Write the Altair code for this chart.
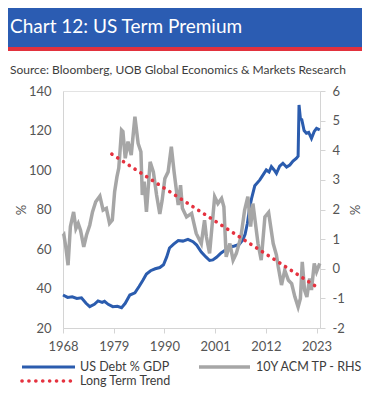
import altair as alt
import pandas as pd

# ---------------- data ----------------
debt_years = [1968.0, 1969.0, 1970.0, 1971.0, 1972.0, 1973.0, 1973.8, 1974.8, 1975.6, 1976.5,
              1977.0, 1977.8, 1978.8, 1979.8, 1980.7, 1981.5, 1982.5, 1983.6, 1984.5, 1985.3,
              1986.1, 1987.0, 1988.0, 1989.0, 1989.8, 1990.5, 1991.1, 1992.0, 1993.0, 1994.0,
              1995.1, 1996.2, 1997.0, 1998.0, 1999.0, 1999.8, 2000.5, 2001.3, 2002.3, 2003.4,
              2004.3, 2005.2, 2006.2, 2007.0, 2007.5, 2008.0, 2008.5, 2008.9, 2009.6, 2010.7,
              2011.4, 2012.1, 2012.7, 2013.2, 2013.8, 2014.3, 2015.0, 2015.7, 2016.5, 2017.2,
              2017.9, 2018.6, 2019.0, 2019.2, 2019.5, 2019.8, 2020.3, 2020.8, 2021.3, 2021.9,
              2022.5, 2023.0, 2023.7]
debt_values = [36.7, 35.5, 35.8, 35.0, 35.3, 32.5, 30.8, 32.0, 33.7, 33.0,
               33.5, 32.0, 30.8, 31.0, 30.3, 32.5, 36.7, 37.8, 41.0, 44.0,
               47.3, 49.0, 50.0, 50.6, 52.0, 56.0, 60.5, 62.5, 64.3, 64.0,
               64.9, 63.7, 62.0, 58.5, 56.0, 54.2, 54.5, 55.8, 58.0, 59.8,
               61.0, 61.5, 62.3, 64.6, 67.5, 73.0, 81.0, 85.5, 92.0, 95.0,
               97.5, 100.0, 99.0, 101.7, 100.0, 98.3, 102.0, 103.4, 101.5, 102.5,
               104.5, 105.9, 107.0, 132.9, 126.0, 125.5, 120.0, 118.6, 119.0, 116.0,
               119.5, 121.1, 120.3]

tp_years = [1968.0, 1968.2, 1968.6, 1969.1, 1969.6, 1970.3, 1970.8, 1971.3, 1971.8, 1972.5,
            1973.1, 1973.8, 1974.4, 1975.1, 1976.0, 1976.7, 1977.4, 1978.1, 1978.7, 1979.2,
            1979.7, 1980.1, 1980.7, 1981.0, 1981.5, 1982.1, 1982.8, 1983.6, 1984.3, 1984.9,
            1985.2, 1985.6, 1986.1, 1986.9, 1987.6, 1988.3, 1989.0, 1989.5, 1990.1, 1990.8,
            1991.5, 1992.1, 1993.0, 1993.5, 1993.9, 1994.8, 1995.9, 1996.9, 1998.0, 1998.7,
            1999.1, 1999.8, 2000.9, 2001.6, 2002.4, 2002.9, 2003.4, 2004.2, 2004.9, 2005.6,
            2006.6, 2007.4, 2008.1, 2008.7, 2009.2, 2010.3, 2011.0, 2011.8, 2012.6, 2013.6,
            2014.3, 2014.7, 2015.4, 2016.1, 2016.9, 2017.6, 2018.3, 2019.0, 2019.5, 2019.9,
            2020.4, 2020.9, 2021.5, 2021.9, 2022.5, 2023.0, 2023.7]
tp_values = [1.10, 1.14, 0.74, 0.12, 1.42, 1.92, 1.36, 1.53, 1.30, 0.74,
             1.14, 1.47, 1.92, 2.26, 2.45, 1.98, 2.04, 1.53, 1.64, 2.60,
             3.10, 3.40, 4.68, 4.63, 3.73, 4.29, 3.84, 5.13, 4.23, 3.95,
             2.49, 2.94, 1.92, 3.61, 3.27, 2.49, 1.85, 2.30, 3.05, 3.27,
             4.12, 3.27, 2.15, 2.82, 2.04, 1.75, 1.87, 1.19, 0.85, 1.64,
             1.08, 0.52, 2.43, 2.20, 2.37, 2.09, 0.40, 0.85, 0.29, 0.52,
             1.08, 1.98, 2.43, 1.42, 2.20, 0.85, 0.29, 1.75, 1.90, 0.85,
             0.46, 0.06, -0.55, -0.05, -0.39, -0.50, -0.95, -1.29, -1.00, 0.23,
             -0.72, -0.95, -0.33, -0.72, 0.18, -0.10, 0.18]

trend_years = [1978.6, 2023.3]
trend_values = [3.87, -0.64]

x_ticks = [1968, 1979, 1990, 2001, 2012, 2023]
left_ticks = [20, 40, 60, 80, 100, 120, 140]
right_ticks = [-2, -1, 0, 1, 2, 3, 4, 5, 6]

title_text = "Chart 12: US Term Premium"
source_text = "Source: Bloomberg, UOB Global Economics & Markets Research"
legend_labels = ["US Debt % GDP", "10Y ACM TP - RHS", "Long Term Trend"]

# ---------------- style ----------------
BLUE = "#2b5cae"
HEADER_BLUE = "#2b5cb2"
HEADER_RED = "#e2313d"
GRAY = "#a6a6a6"
RED = "#e5323f"
FONT = "Lato"
AXIS_GRAY = "#d4d4d4"
LABEL = "#555555"
DOTS = [0.1, 6.8]

debt_df = pd.DataFrame({"year": debt_years, "value": debt_values})
tp_df = pd.DataFrame({"year": tp_years, "value": tp_values})
trend_df = pd.DataFrame({"year": trend_years, "value": trend_values})
one = pd.DataFrame({"k": [0]})

xscale = alt.Scale(domain=[1968, 2023.75], nice=False, zero=False)
xaxis = alt.Axis(values=x_ticks, labelExpr="'' + datum.value", title=None, grid=False,
                 ticks=True, tickSize=5, tickColor=AXIS_GRAY, domainColor=AXIS_GRAY,
                 labelFlush=False, labelPadding=7, labelFontSize=13, labelColor=LABEL)

left_axis = alt.Axis(orient="left", values=left_ticks, title="%", grid=False, ticks=False,
                     domainColor=AXIS_GRAY, labelPadding=12, labelFontSize=13,
                     labelColor=LABEL, titleFontSize=13, titleFontWeight="normal",
                     titleColor=LABEL, titlePadding=0)
right_axis = alt.Axis(orient="right", values=right_ticks, title="%", grid=False, ticks=True,
                      tickSize=5, tickColor=AXIS_GRAY, domainColor=AXIS_GRAY,
                      labelPadding=7, labelFontSize=13, labelColor=LABEL,
                      labelExpr="'' + datum.value", titleFontSize=13,
                      titleFontWeight="normal", titleColor=LABEL, titlePadding=2)

left_scale = alt.Scale(domain=[20, 140], nice=False, zero=False)
right_scale = alt.Scale(domain=[-2, 6], nice=False, zero=False)

blue = alt.Chart(debt_df).mark_line(color=BLUE, strokeWidth=3).encode(
    x=alt.X("year:Q", scale=xscale, axis=xaxis),
    y=alt.Y("value:Q", scale=left_scale, axis=left_axis),
)
gray = alt.Chart(tp_df).mark_line(color=GRAY, strokeWidth=3.5).encode(
    x=alt.X("year:Q", scale=xscale, axis=xaxis),
    y=alt.Y("value:Q", scale=right_scale, axis=right_axis),
)
red = alt.Chart(trend_df).mark_line(color=RED, strokeWidth=3.6, strokeDash=DOTS,
                                    strokeCap="round").encode(
    x=alt.X("year:Q", scale=xscale, axis=xaxis),
    y=alt.Y("value:Q", scale=right_scale, axis=right_axis),
)
main = alt.layer(blue, alt.layer(gray, red)).resolve_scale(y="independent")

# ---------------- header & legend (pixel positions relative to plot origin) ----------------
header = alt.Chart(one).mark_rect(color=HEADER_BLUE).encode(
    x=alt.value(-55), x2=alt.value(299), y=alt.value(-83), y2=alt.value(-44))
stripe = alt.Chart(one).mark_rect(color=HEADER_RED).encode(
    x=alt.value(-55), x2=alt.value(299), y=alt.value(-44), y2=alt.value(-40))
title = alt.Chart(one).mark_text(align="left", baseline="alphabetic", fontSize=19,
                                 color="white", font=FONT).encode(
    x=alt.value(-53), y=alt.value(-58), text=alt.value(title_text))
source = alt.Chart(one).mark_text(align="left", baseline="alphabetic", fontSize=12,
                                  color="#3c3c3c", font=FONT).encode(
    x=alt.value(-53), y=alt.value(-17), text=alt.value(source_text))

leg_blue = alt.Chart(one).mark_rule(color=BLUE, strokeWidth=3).encode(
    x=alt.value(-41), x2=alt.value(12), y=alt.value(276))
leg_gray = alt.Chart(one).mark_rule(color=GRAY, strokeWidth=3.5).encode(
    x=alt.value(136), x2=alt.value(187), y=alt.value(276))
leg_red = alt.Chart(one).mark_rule(color=RED, strokeWidth=3.6, strokeDash=DOTS,
                                   strokeCap="round").encode(
    x=alt.value(-41), x2=alt.value(12), y=alt.value(290))
leg_t1 = alt.Chart(one).mark_text(align="left", baseline="middle", fontSize=12.5,
                                  color="#3c3c3c", font=FONT).encode(
    x=alt.value(17), y=alt.value(276), text=alt.value(legend_labels[0]))
leg_t2 = alt.Chart(one).mark_text(align="left", baseline="middle", fontSize=12.5,
                                  color="#3c3c3c", font=FONT).encode(
    x=alt.value(193), y=alt.value(276), text=alt.value(legend_labels[1]))
leg_t3 = alt.Chart(one).mark_text(align="left", baseline="middle", fontSize=12.5,
                                  color="#3c3c3c", font=FONT).encode(
    x=alt.value(17), y=alt.value(290), text=alt.value(legend_labels[2]))

chart = alt.layer(
    header, stripe, title, source, main,
    leg_blue, leg_gray, leg_red, leg_t1, leg_t2, leg_t3,
).properties(
    width=257, height=237,
    autosize=alt.AutoSizeParams(type="none"),
    padding={"left": 55, "top": 83, "right": 42, "bottom": 60},
).configure(font=FONT).configure_view(stroke="#e3e3e3")

chart.save("out.html", embed_options={"renderer": "svg", "actions": False})
